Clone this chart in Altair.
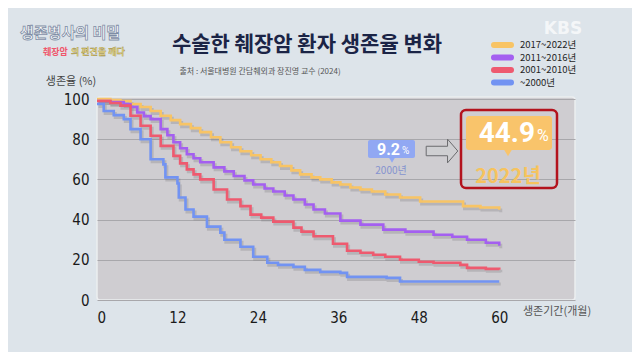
import altair as alt
import pandas as pd

# ---- data ----
series_names = ["2017~2022년", "2011~2016년", "2001~2010년", "~2000년"]
series_colors = ["#f8c465", "#a45ff0", "#ee5a6f", "#7293f2"]

months_2017 = [0, 2, 3.5, 5, 6.5, 8, 9.5, 11, 12.4, 14, 15.4, 17, 18.4, 20, 21.4, 23, 24.4, 26, 27.3, 29,
               30.3, 32, 33.3, 35, 36.3, 37.8, 39.3, 41, 43, 45.2, 48.2, 52.7, 54.6, 57.2, 60]
pct_2017 = [100, 99.5, 99, 97.5, 96, 94, 91.7, 89.5, 87.5, 85.5, 83.5, 81, 78.5, 76, 74, 72, 70, 68.5, 66.7, 64.5,
            62.5, 61, 60, 58.5, 57.5, 56, 55, 54, 52.5, 51, 49, 49, 46.7, 46, 44.9]

months_2011 = [0, 2, 4, 5, 6, 7, 8, 9.5, 10.5, 11.4, 12.4, 13.4, 14.4, 15.4, 17.4, 19, 20.4, 22, 23.3, 25,
               26.3, 28, 29.3, 31, 32.3, 34, 36.3, 39.3, 42.7, 46, 50.2, 53, 55.2, 58, 60]
pct_2011 = [99, 98.5, 97.5, 96, 93.3, 91.5, 90, 85, 82, 78.5, 75.5, 72.5, 70.5, 68.5, 66, 64, 61.7, 59.5, 57.5, 55.5,
            54, 52, 50, 47.5, 45, 43, 39.5, 37.5, 35, 34, 32.5, 31.5, 30, 28.5, 27]

months_2001 = [0, 2, 3.5, 5, 6.5, 8, 9.5, 11.4, 12.4, 13.4, 14.4, 15.4, 17.4, 19.4, 21.4, 22.9, 24.5, 26.3, 29.3,
               30.5, 32.3, 35.2, 37.3, 39.3, 41.2, 43, 45.2, 48, 50.2, 54.2, 55.2, 58, 60]
pct_2001 = [99, 98, 96.7, 91.7, 86.7, 81.7, 76.7, 71.7, 68, 65, 62.5, 60, 55, 50, 46.7, 42.5, 41, 39, 36,
            34, 31.7, 28, 24.5, 23.5, 22.5, 21.5, 20, 19, 18.5, 17.5, 16, 15.5, 15]

months_2000 = [0, 1, 2.5, 4, 5, 6.5, 8, 9.9, 10.2, 12, 12.2, 13.2, 14.4, 16.4, 18.4, 19, 21.4, 23.3, 25.4, 27,
               29.3, 31, 33.3, 36.3, 37.3, 43.2, 45.2, 60]
pct_2000 = [97.5, 94, 92, 90, 85, 80, 70, 67.5, 61, 58, 51, 45, 41.5, 36.5, 33.5, 30, 26.5, 21.5, 18.5, 17.5,
            16.5, 15, 14, 13.5, 11.5, 11, 9.2, 9.2]

x_ticks = [0, 12, 24, 36, 48, 60]
y_ticks = [0, 20, 40, 60, 80, 100]

title_text = "수술한 췌장암 환자 생존율 변화"
source_text = "출처 : 서울대병원 간담췌외과 장진영 교수 (2024)"
y_title = "생존율 (%)"
x_title = "생존기간(개월)"

# ---- build table ----
rows = []
for name, ms, ps in zip(series_names,
                        [months_2017, months_2011, months_2001, months_2000],
                        [pct_2017, pct_2011, pct_2001, pct_2000]):
    for m, p in zip(ms, ps):
        rows.append({"series": name, "month": m, "pct": p})
df = pd.DataFrame(rows)

KR = "Noto Sans CJK KR"
NUM = "Liberation Sans Narrow, DejaVu Sans Condensed, Roboto, sans-serif"

xscale = alt.Scale(domain=[0, 71.3], nice=False, zero=False)
yscale = alt.Scale(domain=[0, 101], nice=False)

base = alt.Chart(df)

shadow = base.mark_line(interpolate="step-after", strokeWidth=3, color="#6a6a70",
                        opacity=0.25, xOffset=1.5, yOffset=2.5).encode(
    x=alt.X("month:Q", scale=xscale,
            axis=alt.Axis(values=x_ticks, title=None, domain=False, ticks=False, grid=False,
                          labelFont=NUM, labelFontSize=15, labelColor="#1a1a1a", labelPadding=10)),
    y=alt.Y("pct:Q", scale=yscale,
            axis=alt.Axis(values=y_ticks, title=None, domain=False, ticks=False, grid=True,
                          gridColor="#a8a7ab", gridWidth=1,
                          labelFont=NUM, labelFontSize=15, labelColor="#1a1a1a", labelPadding=8)),
    detail="series:N",
)

lines = base.mark_line(interpolate="step-after", strokeWidth=2.6).encode(
    x=alt.X("month:Q", scale=xscale),
    y=alt.Y("pct:Q", scale=yscale),
    color=alt.Color("series:N", scale=alt.Scale(domain=series_names, range=series_colors), legend=None),
)

one = pd.DataFrame({"k": [0]})


def txt(text, x, y, size, color, weight="normal", align="center", font=KR, baseline="middle", **kw):
    return alt.Chart(one).mark_text(text=text, fontSize=size, color=color, fontWeight=weight,
                                    align=align, baseline=baseline, font=font, **kw).encode(
        x=alt.value(x), y=alt.value(y))


def box(x1, x2, y1, y2, **kw):
    return alt.Chart(one).mark_rect(**kw).encode(
        x=alt.value(x1), x2=alt.value(x2), y=alt.value(y1), y2=alt.value(y2))


layers = [shadow, lines]

# legend (manual, pill shaped)
for i, (name, col) in enumerate(zip(series_names, series_colors)):
    yy = -52 + i * 12.5
    layers.append(alt.Chart(one).mark_rule(strokeWidth=6, strokeCap="round", color=col).encode(
        x=alt.value(397), x2=alt.value(414), y=alt.value(yy)))
    layers.append(txt(name, 423, yy, 9.5, "#1f1f1f", align="left"))

# titles and texts
layers += [
    txt(title_text, 210, -52, 21, "#1b2446", weight="bold"),
    txt(source_text, 163, -25, 8, "#555555"),
    txt(y_title, -26, -15, 11, "#444444"),
    txt(x_title, 426, 215, 11, "#555555", align="left"),
    txt("생존병사의 비밀", -27, -64, 15, "#ffffff", weight="bold", stroke="#7f8ea6", strokeWidth=0.8),
    txt("췌장암", -54, -45, 9, "#f0566c", weight="bold", align="left"),
    txt("의 편견을 깨다", -26, -45, 9, "#f3e07c", weight="bold", align="left",
        stroke="#8a7a40", strokeWidth=0.3),
    txt("KBS", 466, -68, 17, "#ffffff", weight="bold", font="DejaVu Sans", opacity=0.7),
]

# annotation: 9.2% 2000년
layers += [
    box(271, 318, 43, 61, fill="#89a4f6", cornerRadius=2, opacity=0.9),
    alt.Chart(one).mark_point(shape="triangle-down", size=40, filled=True, color="#89a4f6", opacity=0.9).encode(
        x=alt.value(295), y=alt.value(63)),
    txt("9.2", 303, 53, 16, "#ffffff", weight="bold", align="right", font="Roboto"),
    txt("%", 305, 54, 10, "#ffffff", align="left", font="Roboto"),
    txt("2000년", 294, 74, 10, "#8593cf"),
]

# arrow
arrow_path = "M-1,-0.3 L0.35,-0.3 L0.35,-0.75 L1,0 L0.35,0.75 L0.35,0.3 L-1,0.3 Z"
layers.append(alt.Chart(one).mark_point(shape=arrow_path, size=1000, filled=True, fill="#cfcfd2",
                                        stroke="#6b6b6e", strokeWidth=1, opacity=1).encode(
    x=alt.value(345), y=alt.value(54)))

# annotation: 44.9% 2022년
layers += [
    box(369, 455, 19, 53, fill="#f9c46b", cornerRadius=3),
    alt.Chart(one).mark_point(shape="triangle-down", size=60, filled=True, color="#f9c46b", opacity=1).encode(
        x=alt.value(411), y=alt.value(56)),
    txt("44.9", 438, 37, 28, "#ffffff", weight="bold", align="right", font="Roboto"),
    txt("%", 440, 39, 16, "#ffffff", align="left", font="Roboto"),
    txt("2022년", 411, 80, 20, "#f6c35e", weight="bold"),
    box(364, 460, 13, 91, fill="transparent", stroke="#b3121d", strokeWidth=2.5, cornerRadius=5),
]

chart = alt.layer(*layers).properties(
    width=478, height=203,
    autosize=alt.AutoSizeParams(type="none"),
    padding={"left": 89, "top": 89, "right": 57, "bottom": 52},
    background="#dde4ea",
).configure_view(fill="#cfcdd1", stroke="#eceef0", strokeWidth=1.5, cornerRadius=3)

chart.save("out.html", embed_options={"renderer": "svg", "actions": False})
